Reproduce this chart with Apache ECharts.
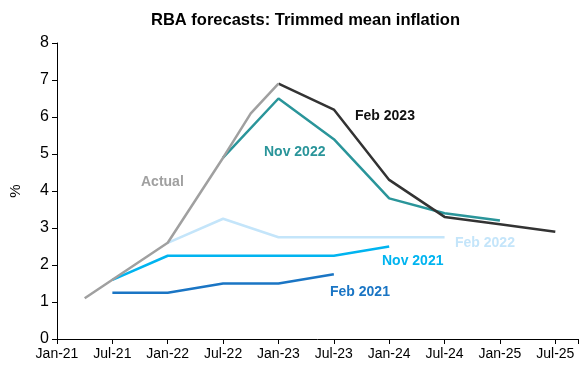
<!DOCTYPE html>
<html><head><meta charset="utf-8">
<script src="https://cdn.jsdelivr.net/npm/echarts@6/dist/echarts.min.js"></script>
<style>html,body{margin:0;padding:0;background:#fff}#c{width:581px;height:367px}</style>
</head><body><div id="c"></div>
<script>
// x positions in quarters since Jan-21
const tickLabels = ['Jan-21','Jul-21','Jan-22','Jul-22','Jan-23','Jul-23','Jan-24','Jul-24','Jan-25','Jul-25'];
const actualX = [1, 2, 4, 6, 7, 8];
const actualY = [1.1, 1.6, 2.6, 4.9, 6.1, 6.9];
const feb21X = [2, 4, 6, 8, 10];
const feb21Y = [1.25, 1.25, 1.5, 1.5, 1.75];
const nov21X = [2, 4, 6, 8, 10, 12];
const nov21Y = [1.6, 2.25, 2.25, 2.25, 2.25, 2.5];
const feb22X = [4, 6, 8, 10, 12, 14];
const feb22Y = [2.6, 3.25, 2.75, 2.75, 2.75, 2.75];
const nov22X = [6, 8, 10, 12, 14, 16];
const nov22Y = [4.9, 6.5, 5.4, 3.8, 3.4, 3.2];
const feb23X = [8, 10, 12, 14, 16, 18];
const feb23Y = [6.9, 6.2, 4.3, 3.3, 3.1, 2.9];

const pair = (xs, ys) => xs.map((x, i) => [x, ys[i]]);
const FONT = '"Liberation Sans Narrow", "Liberation Sans", Arial, sans-serif';
function ln(name, xs, ys, color, z) {
  return { name, type: 'line', data: pair(xs, ys), symbol: 'none', z: z,
    lineStyle: { color, width: 2.5 }, itemStyle: { color } };
}
const chart = echarts.init(document.getElementById('c'));
chart.setOption({
  animation: false,
  title: { text: 'RBA forecasts: Trimmed mean inflation', left: 146, top: 7,
    textStyle: { fontFamily: FONT, fontWeight: 'bold', fontSize: 16.5, color: '#000' } },
  grid: { left: 54, right: 2, top: 43, bottom: 28 },
  xAxis: { type: 'value', min: 0, max: 18.82, interval: 2,
    axisLine: { lineStyle: { color: '#000', width: 1 } },
    axisTick: { show: true, length: 5, lineStyle: { color: '#000' } },
    splitLine: { show: false },
    axisLabel: { fontFamily: FONT, fontSize: 14, color: '#000', margin: 8,
      formatter: v => (Number.isInteger(v) && v % 2 === 0 && v / 2 < tickLabels.length) ? tickLabels[v / 2] : '' } },
  yAxis: { type: 'value', min: 0, max: 8, interval: 1,
    name: '%', nameLocation: 'middle', nameGap: 34, nameRotate: 90,
    nameTextStyle: { fontFamily: FONT, fontSize: 15, color: '#000' },
    axisLine: { show: true, lineStyle: { color: '#000', width: 1 } },
    axisTick: { show: true, length: 5, lineStyle: { color: '#000' } },
    splitLine: { show: false },
    axisLabel: { fontFamily: FONT, fontSize: 16, color: '#000', margin: 8 } },
  series: [
    ln('Feb 2021', feb21X, feb21Y, '#1a75c4', 2),
    ln('Nov 2021', nov21X, nov21Y, '#00b4f0', 2),
    ln('Feb 2022', feb22X, feb22Y, '#c4e5fa', 1),
    ln('Nov 2022', nov22X, nov22Y, '#2a959a', 3),
    ln('Feb 2023', feb23X, feb23Y, '#333333', 4),
    ln('Actual', actualX, actualY, '#a0a0a0', 5)
  ],
  graphic: [
    { type: 'text', left: 141, top: 175, style: { text: 'Actual', fill: '#a0a0a0', font: 'bold 14px ' + FONT } },
    { type: 'text', left: 264, top: 145, style: { text: 'Nov 2022', fill: '#2a959a', font: 'bold 14px ' + FONT } },
    { type: 'text', left: 355, top: 109, style: { text: 'Feb 2023', fill: '#111', font: 'bold 14px ' + FONT } },
    { type: 'text', left: 455, top: 236, style: { text: 'Feb 2022', fill: '#c4e5fa', font: 'bold 14px ' + FONT } },
    { type: 'text', left: 382, top: 254, style: { text: 'Nov 2021', fill: '#00b4f0', font: 'bold 14px ' + FONT } },
    { type: 'text', left: 330, top: 285, style: { text: 'Feb 2021', fill: '#1a75c4', font: 'bold 14px ' + FONT } }
  ]
});
</script></body></html>
